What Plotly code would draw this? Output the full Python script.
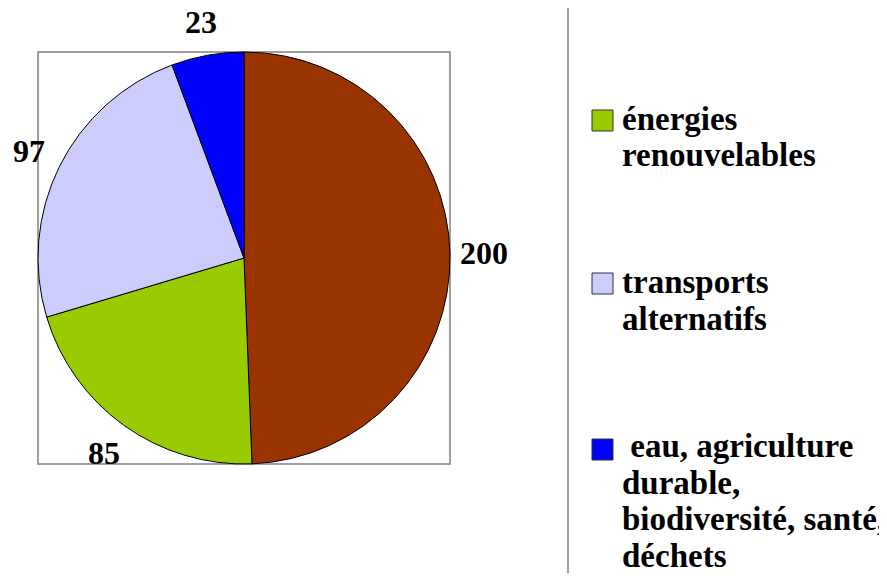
import math
import plotly.graph_objects as go

labels = ["autres", "énergies renouvelables", "transports alternatifs",
          " eau, agriculture durable, biodiversité, santé, déchets"]
values = [200, 85, 97, 23]
colors = ["#993300", "#99CC00", "#CCCCFF", "#0000FF"]
# legend text lines as shown (first entry is cut off above the chart area)
legend_lines = [
    None,
    ["énergies", "renouvelables"],
    ["transports", "alternatifs"],
    [" eau, agriculture", "durable,", "biodiversité, santé,", "déchets"],
]

OFF = 8  # page body margin
W, H = 887 - OFF, 581 - 2 * OFF
FONT = "Times New Roman, Liberation Serif, Tinos, serif"

def px(x):
    return (x - OFF) / W

def py(y):
    return 1 - (y - OFF) / H

CX, CY, R = 244, 258, 206

fig = go.Figure()
fig.add_trace(go.Pie(
    labels=labels, values=values, sort=False, direction="clockwise", rotation=0,
    marker=dict(colors=colors, line=dict(color="black", width=1)),
    textinfo="none",
    domain=dict(x=[px(CX - R), px(CX + R)], y=[py(CY + R), py(CY - R)]),
    showlegend=False, hoverinfo="label+value",
))

shapes = [
    dict(type="rect", xref="paper", yref="paper", x0=px(38), x1=px(450),
         y0=py(464), y1=py(52), line=dict(color="#808080", width=1.5), layer="below"),
    dict(type="line", xref="paper", yref="paper", x0=px(568), x1=px(568),
         y0=0, y1=1, line=dict(color="#808080", width=1.5)),
]
annotations = []

# value labels outside the slices, along each slice's mid-angle
total = sum(values)
cum = 0
for v in values:
    mid = (cum + v / 2) / total * 2 * math.pi
    cum += v
    d = R + 34
    lx = CX + d * math.sin(mid)
    ly = CY - d * math.cos(mid)
    annotations.append(dict(
        xref="paper", yref="paper", x=px(lx), y=py(ly),
        xanchor="center", yanchor="middle", showarrow=False, text=str(v),
        font=dict(family=FONT, size=32, color="black", weight="bold"),
        borderpad=0,
    ))

square_tops = [None, 110, 273, 439]
first_baselines = [None, 132, 295, 459]
for i, lines in enumerate(legend_lines):
    if lines is None:
        continue
    t = square_tops[i]
    shapes.append(dict(type="rect", xref="paper", yref="paper",
                       x0=px(592), x1=px(613), y0=py(t + 21), y1=py(t),
                       fillcolor=colors[i], line=dict(color="#333333", width=1)))
    for j, line in enumerate(lines):
        base = first_baselines[i] + 36.5 * j
        annotations.append(dict(
            xref="paper", yref="paper", x=px(621), y=py(base + 6),
            xanchor="left", yanchor="bottom", showarrow=False,
            text=line.replace(" ", "&nbsp;", 1) if line.startswith(" ") else line,
            font=dict(family=FONT, size=33, color="black", weight="bold"),
            borderpad=0,
        ))

fig.update_layout(
    width=W, height=H, margin=dict(l=0, r=0, t=0, b=0),
    paper_bgcolor="white", plot_bgcolor="white",
    shapes=shapes, annotations=annotations,
)
fig.write_html("out.html")
